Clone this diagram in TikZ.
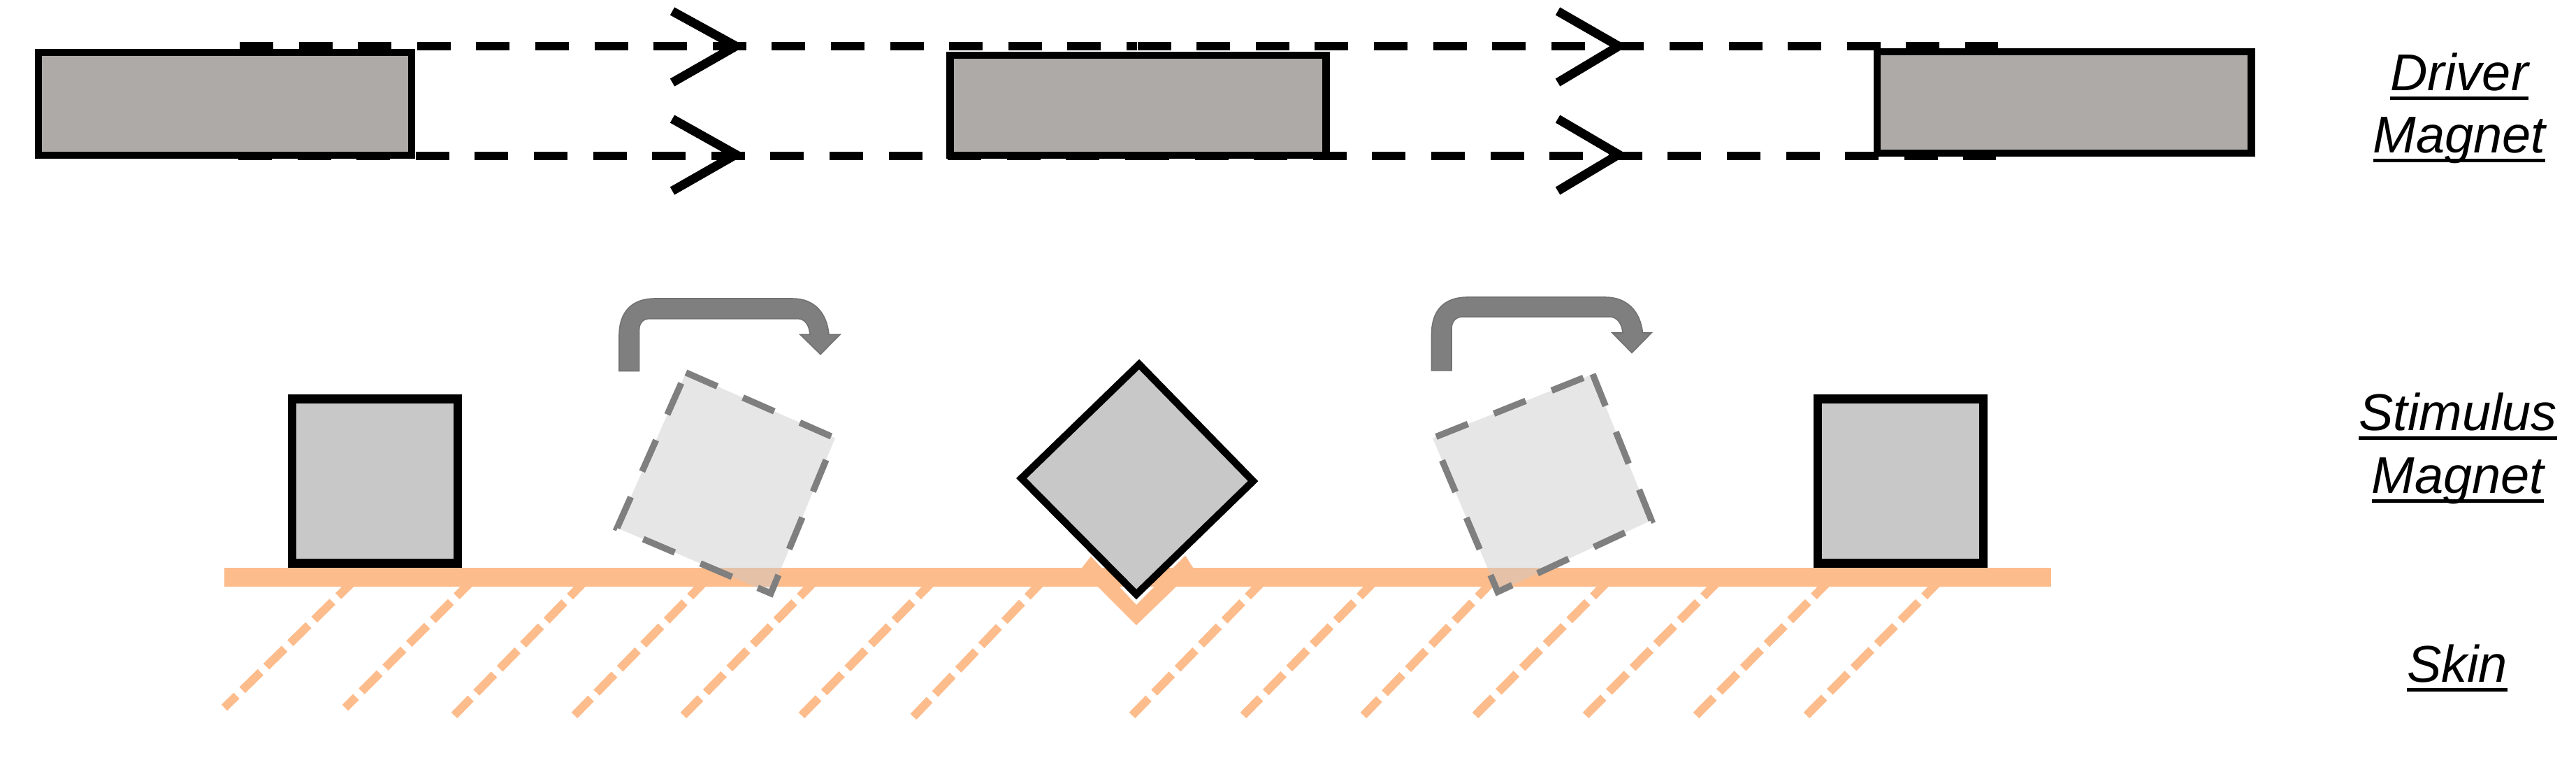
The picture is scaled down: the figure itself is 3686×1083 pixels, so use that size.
\documentclass[tikz,border=0pt]{standalone}
\usepackage{fontspec}
\setmainfont{Liberation Sans}
\newcommand\ultext[1]{\setbox0=\hbox{#1}\copy0\llap{\raisebox{-3.4pt}{\rule{\wd0}{1.25pt}}}}
\definecolor{drv}{HTML}{AEAAA8}
\definecolor{stim}{HTML}{C8C8C8}
\definecolor{skin}{HTML}{FDBC8C}
\definecolor{ghostline}{HTML}{7F7F7F}
\tikzset{
  drivermag/.style={draw=black,line width=2.6pt,fill=drv,inner sep=0pt,outer sep=0pt},
  stimmag/.style={draw=black,line width=3.1pt,fill=stim,inner sep=0pt,outer sep=0pt,minimum width=59.25pt,minimum height=58.75pt},
  travel/.style={draw=black,line width=3.2pt,dash pattern=on 12pt off 9.15pt},
  chevron/.style={draw=black,line width=3.2pt,miter limit=10},
  hatchline/.style={draw=skin,line width=3pt,dash pattern=on 9.1pt off 2.9pt},
  ghostmag/.style={draw=ghostline,line width=2.3pt,dash pattern=on 12.25pt off 10pt,fill=stim,fill opacity=.45,draw opacity=1},
  turnarrow/.style={fill=ghostline,draw=ghostline!90!black,line width=.4pt},
  lbl/.style={anchor=base,inner sep=0pt,font=\fontsize{18.5pt}{20pt}\selectfont\itshape},
}
\begin{document}
\begin{tikzpicture}[x=0.25pt,y=-0.25pt]
\useasboundingbox (0,0) rectangle (3686,1083);
% travel lines
\coordinate (ta1) at (343,66); \coordinate (ta2) at (1627,66);
\coordinate (tb1) at (1627.5,66); \coordinate (tb2) at (2859,66);
\coordinate (ba1) at (341,223); \coordinate (ba2) at (1625,223);
\coordinate (bb1) at (1625,223); \coordinate (bb2) at (2856,223);
\draw[travel] (ta1) -- (ta2);
\draw[travel] (tb1) -- (tb2);
\draw[travel] (ba1) -- (ba2);
\draw[travel] (bb1) -- (bb2);
% chevrons
\foreach \n/\xa/\xb in {l/962/1053,r/2229/2316}{
  \draw[chevron] (\xa,16) -- (\xb,66) -- (\xa,118);
  \draw[chevron] (\xa,170) -- (\xb,221) -- (\xa,273);
}
% driver magnets
\node[drivermag,minimum width=133.5pt,minimum height=36.75pt] (d1) at (322,148.5) {};
\node[drivermag,minimum width=134.5pt,minimum height=35.75pt] (d2) at (1628.5,150.5) {};
\node[drivermag,minimum width=133.9pt,minimum height=36.25pt] (d3) at (2953.75,146.5) {};
% skin hatching
\foreach \xt/\xb/\yb in {510/321/1012,679/494/1012,841/650/1023,1013/822/1023,1170/978/1023,1339/1147/1023,1495.5/1307/1025,1811/1620/1023,1971/1779/1023,2140/1951/1023,2305/2111/1023,2463/2269/1023,2621/2427/1023,2779/2585/1023}{
  \draw[hatchline] (\xt,827) -- (\xb,\yb);
}
% skin
\fill[skin] (321,811.6) rectangle (2935,838.6);
\fill[skin] (1541,821) -- (1561,795.5) -- (1626,865) -- (1696,794.5) -- (1713,821) -- (1684,838) -- (1626,894) -- (1572,840) -- cycle;
% stimulus magnets
\node[stimmag] (s1) at (536.5,688) {};
\node[stimmag] (s2) at (2719.5,688) {};
\draw[draw=black,line width=2.6pt,fill=stim,miter limit=10] (1630,521) -- (1793,688) -- (1626,850) -- (1461.5,684) -- cycle;
% ghost magnets
\draw[ghostmag] (981.5,532.8) -- (1195,626.5) -- (1103,848.6) -- (883,755) -- cycle;
\draw[ghostmag] (2279,535) -- (2363,744) -- (2143,846.4) -- (2050,626.5) -- cycle;
% turning arrows
\draw[turnarrow] (886,530.5) -- (886,480) .. controls (886,445) and (905,427) .. (937,427) -- (1134,427) .. controls (1165,427) and (1183,447) .. (1186,478.4) -- (1202,478.4) -- (1174,506.7) -- (1145,478.4) -- (1159,478.4) .. controls (1158,465) and (1152,455.7) .. (1141,455.7) -- (930,455.7) .. controls (920,455.7) and (914.6,462) .. (914.6,472) -- (914.6,530.5) -- cycle;
\draw[turnarrow] (2048.5,529.8) -- (2048.5,478) .. controls (2048.5,443) and (2067,425) .. (2100,425) -- (2297,425) .. controls (2328,425) and (2347,445) .. (2350.5,476) -- (2363,476) -- (2335,504.5) -- (2307,476) -- (2322,476) .. controls (2321,463) and (2314,453) .. (2303,453) -- (2093,453) .. controls (2083,453) and (2077,460) .. (2077,470) -- (2077,529.8) -- cycle;
% labels
\node[lbl] (l1) at (3519,129) {\ultext{Driver}};
\node[lbl] (l2) at (3519,218) {\ultext{Magnet}};
\node[lbl] (l3) at (3517,615) {\ultext{Stimulus}};
\node[lbl] (l4) at (3517,705) {\ultext{Magnet}};
\node[lbl] (l5) at (3516,975) {\ultext{Skin}};
\end{tikzpicture}
\end{document}
